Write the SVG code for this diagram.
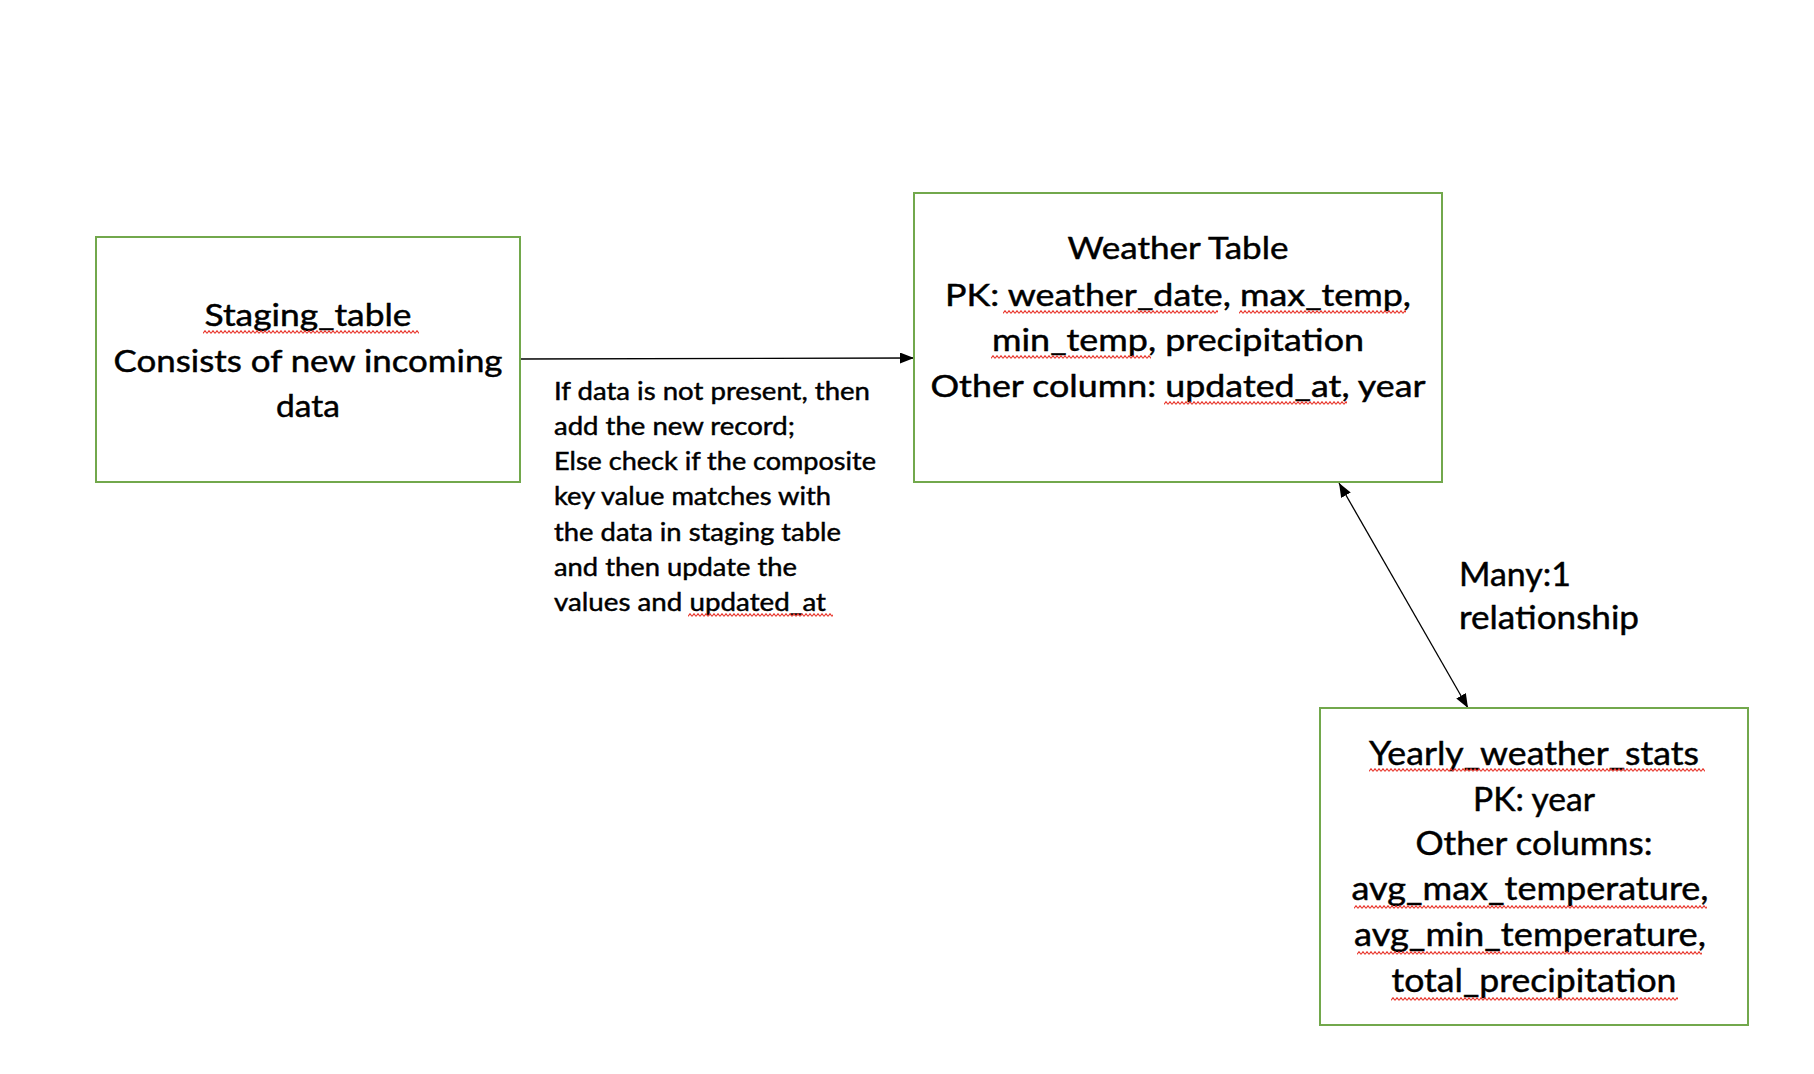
<svg xmlns="http://www.w3.org/2000/svg" width="1814" height="1074" viewBox="0 0 1814 1074">
<style>
.box{fill:#ffffff;stroke:#72A84C;stroke-width:2}
.t{font-family:Lato,"Open Sans","Liberation Sans",sans-serif;fill:#000000;stroke:#000000;stroke-width:0.45}
.c{text-anchor:middle}
.n{font-size:30px}
.y{font-size:32px}
.s{font-size:25px}
.conn{stroke:#000000;stroke-width:1.3;fill:none}
.sq{fill:url(#sq)}
</style>
<defs>
<marker id="ah" viewBox="0 0 14 11" markerWidth="14" markerHeight="11" refX="14" refY="5.5" orient="auto-start-reverse" markerUnits="userSpaceOnUse">
<path d="M0,0 L14,5.5 L0,11 z" fill="#000000"/>
</marker>
<pattern id="sq" patternUnits="userSpaceOnUse" width="4" height="4">
<path d="M0,3.3 L2,0.7 L4,3.3" fill="none" stroke="#E8352B" stroke-width="1.1"/>
</pattern>
</defs>
<rect width="1814" height="1074" fill="#ffffff"/>
<g id="connectors">
<line class="conn" x1="520" y1="359" x2="914" y2="358" marker-end="url(#ah)"/>
<line class="conn" x1="1339" y1="483" x2="1468" y2="708" marker-start="url(#ah)" marker-end="url(#ah)"/>
</g>
<g id="staging_table">
<rect class="box" x="96" y="237" width="424" height="245"/>
<text class="t c n" x="308" y="326" textLength="207" lengthAdjust="spacingAndGlyphs">Staging_table</text>
<text class="t c n" x="308" y="372" textLength="389" lengthAdjust="spacingAndGlyphs">Consists of new incoming</text>
<text class="t c n" x="308" y="417" textLength="64" lengthAdjust="spacingAndGlyphs">data</text>
<rect class="sq" x="0" y="0" width="216" height="4" transform="translate(203,330)"/>
</g>
<g id="weather_table">
<rect class="box" x="914" y="193" width="528" height="289"/>
<text class="t c n" x="1178" y="259" textLength="221" lengthAdjust="spacingAndGlyphs">Weather Table</text>
<text class="t c n" x="1178" y="306" textLength="466" lengthAdjust="spacingAndGlyphs">PK: weather_date, max_temp,</text>
<text class="t c n" x="1178" y="351" textLength="372" lengthAdjust="spacingAndGlyphs">min_temp, precipitation</text>
<text class="t c n" x="1178" y="397" textLength="495" lengthAdjust="spacingAndGlyphs">Other column: updated_at, year</text>
<rect class="sq" x="0" y="0" width="215" height="4" transform="translate(1003,310)"/>
<rect class="sq" x="0" y="0" width="167" height="4" transform="translate(1239,310)"/>
<rect class="sq" x="0" y="0" width="160" height="4" transform="translate(991,355)"/>
<rect class="sq" x="0" y="0" width="183" height="4" transform="translate(1164,401)"/>
</g>
<g id="upsert_note">
<text class="t s" x="554" y="400" textLength="316" lengthAdjust="spacingAndGlyphs">If data is not present, then</text>
<text class="t s" x="554" y="435" textLength="241" lengthAdjust="spacingAndGlyphs">add the new record;</text>
<text class="t s" x="554" y="470" textLength="322" lengthAdjust="spacingAndGlyphs">Else check if the composite</text>
<text class="t s" x="554" y="505" textLength="277" lengthAdjust="spacingAndGlyphs">key value matches with</text>
<text class="t s" x="554" y="541" textLength="287" lengthAdjust="spacingAndGlyphs">the data in staging table</text>
<text class="t s" x="554" y="576" textLength="243" lengthAdjust="spacingAndGlyphs">and then update the</text>
<text class="t s" x="554" y="611" textLength="272" lengthAdjust="spacingAndGlyphs">values and updated_at</text>
<rect class="sq" x="0" y="0" width="145" height="4" transform="translate(688,613)"/>
</g>
<g id="relationship_label">
<text class="t y" x="1459" y="586" textLength="112" lengthAdjust="spacingAndGlyphs">Many:1</text>
<text class="t y" x="1459" y="629" textLength="180" lengthAdjust="spacingAndGlyphs">relationship</text>
</g>
<g id="yearly_weather_stats">
<rect class="box" x="1320" y="708" width="428" height="317"/>
<text class="t c y" x="1534" y="765" textLength="330" lengthAdjust="spacingAndGlyphs">Yearly_weather_stats</text>
<text class="t c y" x="1534" y="811" textLength="122" lengthAdjust="spacingAndGlyphs">PK: year</text>
<text class="t c y" x="1534" y="855" textLength="237" lengthAdjust="spacingAndGlyphs">Other columns:</text>
<text class="t c y" x="1530" y="900" textLength="357" lengthAdjust="spacingAndGlyphs">avg_max_temperature,</text>
<text class="t c y" x="1530" y="946" textLength="352" lengthAdjust="spacingAndGlyphs">avg_min_temperature,</text>
<text class="t c y" x="1534" y="992" textLength="285" lengthAdjust="spacingAndGlyphs">total_precipitation</text>
<rect class="sq" x="0" y="0" width="336" height="4" transform="translate(1369,768)"/>
<rect class="sq" x="0" y="0" width="353" height="4" transform="translate(1354,905)"/>
<rect class="sq" x="0" y="0" width="345" height="4" transform="translate(1357,951)"/>
<rect class="sq" x="0" y="0" width="287" height="4" transform="translate(1391,997)"/>
</g>
</svg>
